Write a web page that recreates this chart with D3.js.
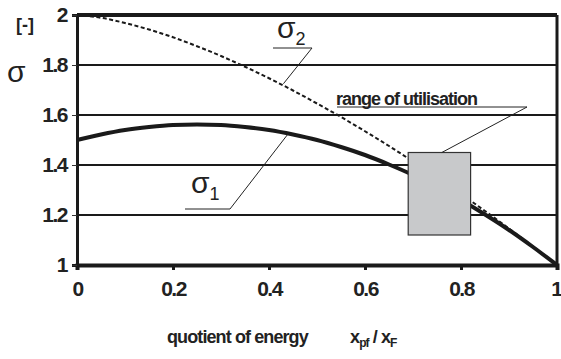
<!DOCTYPE html>
<html lang="en">
<head>
<meta charset="UTF-8" />
<title>sigma vs quotient of energy</title>
<script src="https://d3js.org/d3.v7.min.js"></script>
<style>
  body { margin: 0; background: #fff; }
  text { font-family: "Liberation Sans", Arial, sans-serif; fill: #222; }
</style>
</head>
<body>
<div id="chart"></div>
<script>
// data
const xValues = [0, 0.05, 0.1, 0.15, 0.2, 0.25, 0.3, 0.35, 0.4, 0.45, 0.5, 0.55, 0.6, 0.65, 0.7, 0.75, 0.8, 0.85, 0.9, 0.95, 1];
const sigma1 = [1.5, 1.522, 1.54, 1.552, 1.56, 1.562, 1.56, 1.552, 1.54, 1.522, 1.5, 1.472, 1.44, 1.402, 1.36, 1.312, 1.26, 1.202, 1.14, 1.072, 1.0];
const sigma2 = [2.0, 1.989, 1.968, 1.942, 1.911, 1.875, 1.836, 1.793, 1.747, 1.698, 1.646, 1.592, 1.535, 1.476, 1.414, 1.35, 1.284, 1.216, 1.146, 1.074, 1.0];
const xTicks = [0, 0.2, 0.4, 0.6, 0.8, 1];
const yTicks = [1, 1.2, 1.4, 1.6, 1.8, 2];
const rangeBox = { x0: 0.69, x1: 0.82, y0: 1.12, y1: 1.45 };

const width = 561, height = 359;
const margin = { top: 15, right: 4, bottom: 94, left: 77 };

const svg = d3.select("#chart").append("svg")
  .attr("width", width)
  .attr("height", height);

const x = d3.scaleLinear().domain([0, 1]).range([margin.left, width - margin.right]);
const y = d3.scaleLinear().domain([1, 2]).range([height - margin.bottom, margin.top]);

// horizontal grid lines
svg.append("g")
  .selectAll("line")
  .data(yTicks.slice(1, -1))
  .join("line")
  .attr("x1", x(0)).attr("x2", x(1))
  .attr("y1", d => y(d)).attr("y2", d => y(d))
  .attr("stroke", "#1a1a1a")
  .attr("stroke-width", 2);

// curves
const pts1 = xValues.map((v, i) => [v, sigma1[i]]);
const pts2 = xValues.map((v, i) => [v, sigma2[i]]);
const line = d3.line()
  .x(d => x(d[0]))
  .y(d => y(d[1]))
  .curve(d3.curveMonotoneX);

svg.append("path")
  .datum(pts2)
  .attr("fill", "none")
  .attr("stroke", "#1a1a1a")
  .attr("stroke-width", 2)
  .attr("stroke-dasharray", "4,2.5")
  .attr("d", line);

svg.append("path")
  .datum(pts1)
  .attr("fill", "none")
  .attr("stroke", "#1a1a1a")
  .attr("stroke-width", 4)
  .attr("d", line);

// range of utilisation box
svg.append("rect")
  .attr("x", x(rangeBox.x0))
  .attr("y", y(rangeBox.y1))
  .attr("width", x(rangeBox.x1) - x(rangeBox.x0))
  .attr("height", y(rangeBox.y0) - y(rangeBox.y1))
  .attr("fill", "#c8c9cb")
  .attr("stroke", "#333")
  .attr("stroke-width", 1.2);

// frame
svg.append("line").attr("x1", x(0)).attr("x2", x(1)).attr("y1", y(2)).attr("y2", y(2))
  .attr("stroke", "#1a1a1a").attr("stroke-width", 4);
svg.append("line").attr("x1", x(1)).attr("x2", x(1)).attr("y1", y(2)).attr("y2", y(1))
  .attr("stroke", "#1a1a1a").attr("stroke-width", 3);

// axes
const fmt = d => (d === 0 || d === 1 || d === 2) ? d : d3.format(".1f")(d);

const xAxis = svg.append("g")
  .attr("transform", `translate(0,${y(1)})`)
  .call(d3.axisBottom(x).tickValues(xTicks).tickSize(5).tickPadding(11).tickFormat(fmt));
xAxis.select(".domain").attr("stroke", "#1a1a1a").attr("stroke-width", 4);
xAxis.selectAll(".tick line").attr("stroke", "#1a1a1a").attr("stroke-width", 3);
xAxis.selectAll(".tick text")
  .attr("font-size", 21).attr("font-weight", "bold").attr("fill", "#222")
  .attr("letter-spacing", "-1.5px");
// last label sits against the right edge
xAxis.selectAll(".tick text").filter(d => d === 1)
  .attr("text-anchor", "end").attr("x", 4);

const yAxis = svg.append("g")
  .attr("transform", `translate(${x(0)},0)`)
  .call(d3.axisLeft(y).tickValues(yTicks).tickSize(5).tickPadding(5).tickFormat(fmt));
yAxis.select(".domain").attr("stroke", "#1a1a1a").attr("stroke-width", 3);
yAxis.selectAll(".tick line").attr("stroke", "#333").attr("stroke-width", 1);
yAxis.selectAll(".tick text")
  .attr("font-size", 21).attr("font-weight", "bold").attr("fill", "#222")
  .attr("letter-spacing", "-1.5px");

// axis titles
svg.append("text").attr("x", 16).attr("y", 31)
  .attr("font-size", 18).attr("font-weight", "bold").text("[-]");
svg.append("text").attr("x", 7).attr("y", 82)
  .attr("font-size", 30)
  .text("σ");

const xt = svg.append("text").attr("x", 167).attr("y", 343)
  .attr("font-size", 18).attr("font-weight", "bold").attr("letter-spacing", "-0.9px");
xt.append("tspan").text("quotient of energy");
xt.append("tspan").attr("x", 350).text("x");
xt.append("tspan").attr("font-size", 12).attr("dy", 4).text("pf");
xt.append("tspan").attr("dy", -4).text(" / x");
xt.append("tspan").attr("font-size", 12).attr("dy", 4).text("F");

// annotations
function label(tx, ty, sub, ul, leader) {
  const t = svg.append("text").attr("x", tx).attr("y", ty).attr("font-size", 30);
  t.append("tspan").text("σ");
  t.append("tspan").attr("font-size", 18).attr("dy", 7).text(sub);
  svg.append("polyline")
    .attr("points", [[ul[0], ul[2]], [ul[1], ul[2]], leader].map(p => p.join(",")).join(" "))
    .attr("fill", "none").attr("stroke", "#222").attr("stroke-width", 1);
}
label(277, 38, "2", [273, 312, 48], [x(0.43), y(1.725)]);
label(191, 193, "1", [185, 230, 209], [x(0.44), y(1.525)]);

svg.append("text").attr("x", 336).attr("y", 105)
  .attr("font-size", 18).attr("font-weight", "bold").attr("letter-spacing", "-1px")
  .text("range of utilisation");
svg.append("polyline")
  .attr("points", [[337, 107], [527, 107], [x(0.76), y(rangeBox.y1)]].map(p => p.join(",")).join(" "))
  .attr("fill", "none").attr("stroke", "#222").attr("stroke-width", 1);
</script>
</body>
</html>
